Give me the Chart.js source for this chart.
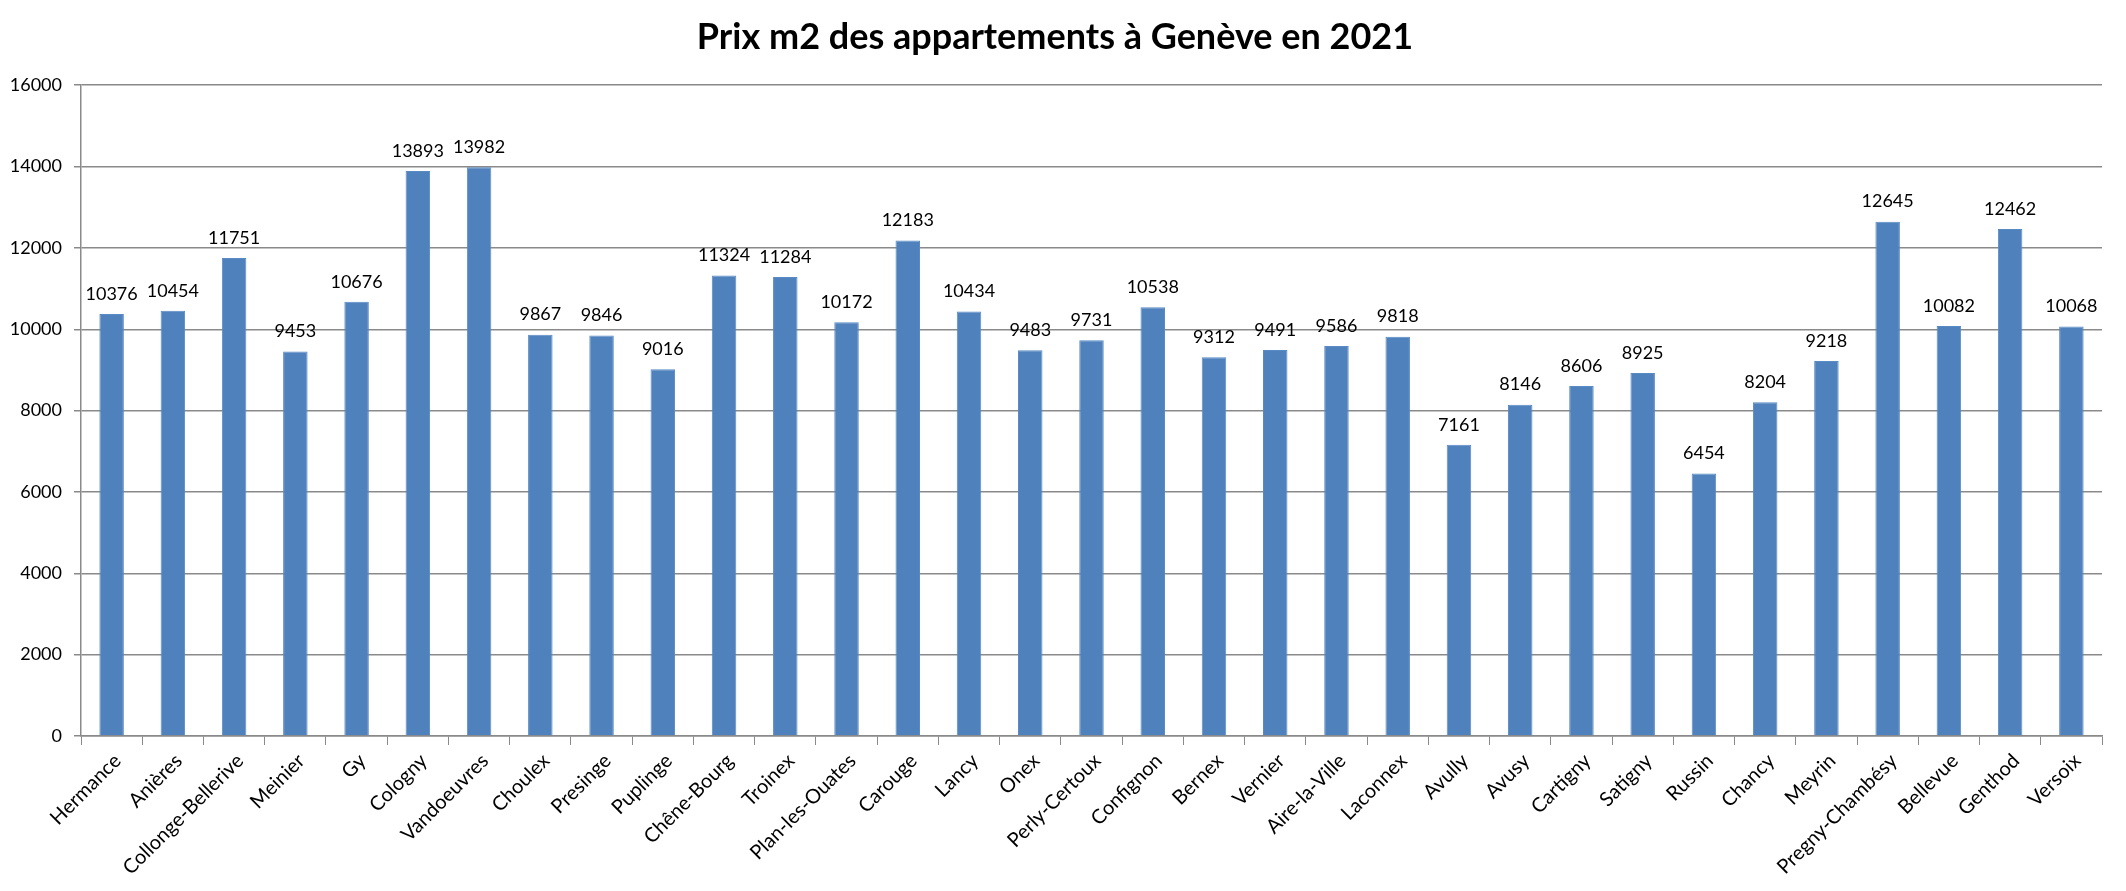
<!DOCTYPE html>
<html>
<head>
<meta charset="utf-8">
<script src="https://cdn.jsdelivr.net/npm/chart.js@4.4.1/dist/chart.umd.min.js"></script>
<style>
  html, body { margin: 0; padding: 0; background: #fff; }
  #wrap { width: 2126px; height: 891px; }
</style>
</head>
<body>
<div id="wrap"><canvas id="prixChart" width="2126" height="891"></canvas></div>
<script>
// communes du canton, dans l'ordre du graphique
const communes = [
  'Hermance', 'Anières', 'Collonge-Bellerive', 'Meinier', 'Gy', 'Cologny',
  'Vandoeuvres', 'Choulex', 'Presinge', 'Puplinge', 'Chêne-Bourg', 'Troinex',
  'Plan-les-Ouates', 'Carouge', 'Lancy', 'Onex', 'Perly-Certoux', 'Confignon',
  'Bernex', 'Vernier', 'Aire-la-Ville', 'Laconnex', 'Avully', 'Avusy',
  'Cartigny', 'Satigny', 'Russin', 'Chancy', 'Meyrin', 'Pregny-Chambésy',
  'Bellevue', 'Genthod', 'Versoix'
];

// prix au m2 (CHF)
const prixM2 = [
  10376, 10454, 11751, 9453, 10676, 13893,
  13982, 9867, 9846, 9016, 11324, 11284,
  10172, 12183, 10434, 9483, 9731, 10538,
  9312, 9491, 9586, 9818, 7161, 8146,
  8606, 8925, 6454, 8204, 9218, 12645,
  10082, 12462, 10068
];

const yTicks = [0, 2000, 4000, 6000, 8000, 10000, 12000, 14000, 16000];

const FONT = "Lato, sans-serif";
const GRID = '#8a8a8a';

// valeurs au-dessus des barres
const barLabels = {
  id: 'barLabels',
  afterDatasetsDraw(chart) {
    const ctx = chart.ctx;
    const meta = chart.getDatasetMeta(0);
    ctx.save();
    ctx.font = '18px ' + FONT;
    ctx.fillStyle = '#000';
    ctx.textAlign = 'center';
    ctx.textBaseline = 'bottom';
    meta.data.forEach((bar, i) => {
      ctx.fillText(String(prixM2[i]), bar.x, bar.y - 11);
    });
    ctx.restore();
  }
};

const ctx = document.getElementById('prixChart').getContext('2d');
new Chart(ctx, {
  type: 'bar',
  data: {
    labels: communes,
    datasets: [{
      label: 'Prix m2',
      data: prixM2,
      backgroundColor: '#4f81bd',
      borderColor: '#5a8ac4',
      borderWidth: 1,
      barPercentage: 0.4,
      categoryPercentage: 1.0
    }]
  },
  options: {
    responsive: false,
    animation: false,
    devicePixelRatio: 1,
    layout: { padding: { left: 8, right: 24, top: 0, bottom: 0 } },
    plugins: {
      legend: { display: false },
      tooltip: { enabled: false },
      title: {
        display: true,
        text: 'Prix m2 des appartements à Genève en 2021',
        color: '#000',
        font: { family: FONT, size: 36, weight: 'bold' },
        padding: { top: 16, bottom: 26 }
      }
    },
    scales: {
      x: {
        grid: {
          offset: true,
          drawOnChartArea: false,
          drawTicks: true,
          tickLength: 9,
          color: GRID
        },
        border: { display: true, color: GRID, width: 1.5 },
        ticks: {
          color: '#000',
          font: { family: FONT, size: 20 },
          maxRotation: 45,
          minRotation: 45,
          autoSkip: false,
          padding: 4,
          labelOffset: 6
        },
        afterFit(scale) { scale.height = 155; }
      },
      y: {
        min: 0,
        max: 16000,
        afterBuildTicks(scale) { scale.ticks = yTicks.map(v => ({ value: v })); },
        grid: { color: GRID, lineWidth: 1.5, tickLength: 7 },
        border: { display: true, color: GRID, width: 1.5 },
        ticks: {
          color: '#000',
          font: { family: FONT, size: 18 },
          padding: 12,
          callback: v => String(v)
        },
        afterFit(scale) { scale.width = 73; }
      }
    }
  },
  plugins: [barLabels]
});
</script>
</body>
</html>
